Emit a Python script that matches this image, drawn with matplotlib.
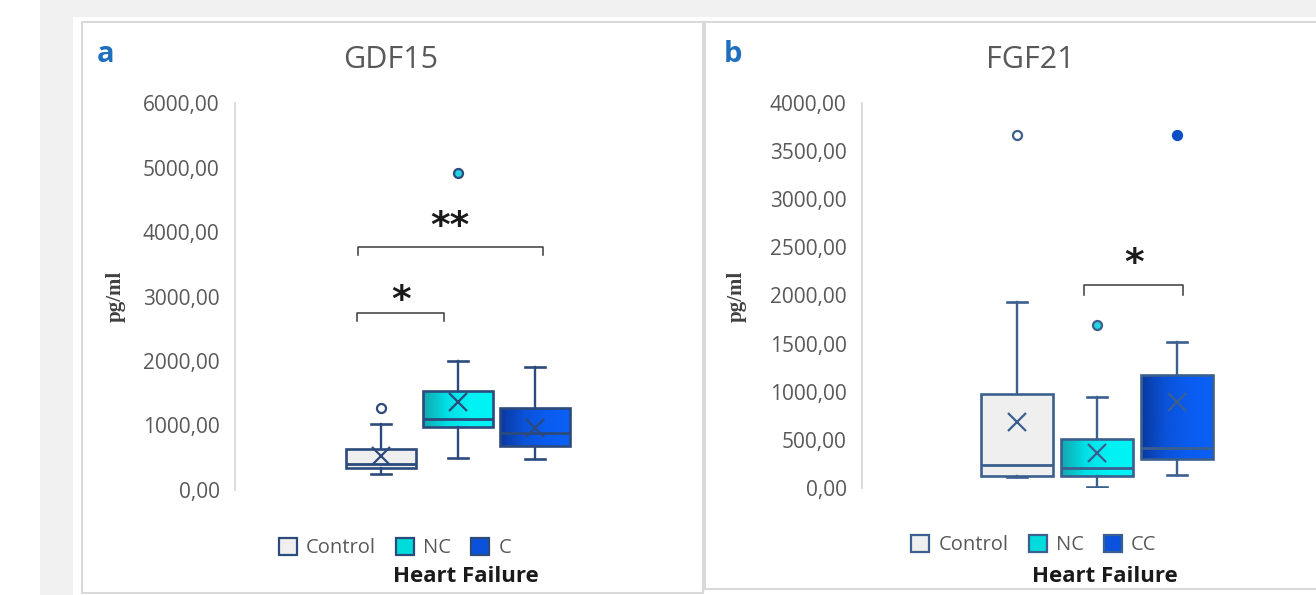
import numpy as np
import matplotlib
matplotlib.use("Agg")
import matplotlib.pyplot as plt
from matplotlib.patches import Rectangle, Patch
from matplotlib.colors import LinearSegmentedColormap
from matplotlib.ticker import FuncFormatter

# ---------------- data ----------------
gdf15_groups = ["Control", "NC", "C"]
gdf15_whislo = [248, 496, 481]
gdf15_q1 = [341, 977, 682]
gdf15_med = [403, 1100, 884]
gdf15_q3 = [636, 1535, 1271]
gdf15_whishi = [1023, 2000, 1907]
gdf15_mean = [527, 1364, 961]
gdf15_fliers = [[1271], [4915], []]
gdf15_ticks = [0, 1000, 2000, 3000, 4000, 5000, 6000]
# (x start, x end, bracket height, label height, label)
gdf15_sig = [(0.69, 1.82, 2744, 3008, "*"), (0.70, 3.10, 3767, 4155, "**")]

fgf21_groups = ["Control", "NC", "CC"]
fgf21_whislo = [112, 10, 135]
fgf21_q1 = [125, 125, 302]
fgf21_med = [235, 208, 417]
fgf21_q3 = [979, 510, 1177]
fgf21_whishi = [1937, 948, 1521]
fgf21_mean = [688, 365, 896]
fgf21_fliers = [[3667], [1698], [3667]]
fgf21_ticks = [0, 500, 1000, 1500, 2000, 2500, 3000, 3500, 4000]
fgf21_sig = [(1.84, 3.08, 2104, 2375, "*")]

# ---------------- figure ----------------
W, H = 1316, 595
fig = plt.figure(figsize=(W / 100, H / 100), dpi=100)
fig.patch.set_facecolor("white")

def fx(x):
    return x / W

def fy(y):
    return 1 - y / H

def frect(x0, y0, x1, y1, **kw):
    r = Rectangle((fx(x0), fy(y1)), fx(x1) - fx(x0), fy(y0) - fy(y1),
                  transform=fig.transFigure, **kw)
    fig.patches.append(r)

frect(40, 0, W, H, facecolor="#f0f0f0", edgecolor="none", zorder=-20)
frect(73, 17, W, H, facecolor="white", edgecolor="none", zorder=-19)
frect(82, 22, 703, 593, facecolor="white", edgecolor="#d9d9d9", lw=1.5, zorder=-18)
frect(705, 22, W + 10, 589, facecolor="white", edgecolor="#d9d9d9", lw=1.5, zorder=-18)

FONT = "Open Sans"
TICK_C = "#595959"

fill_cmaps = [
    None,
    LinearSegmentedColormap.from_list("nc", ["#13a6ad", "#00dfe6", "#00f2f4", "#00f4f4"]),
    LinearSegmentedColormap.from_list("c", ["#0a389f", "#0a52d8", "#0a5cf0", "#0a60f6"]),
]
flier_face = ["white", "#22d3e0", "#0c4fc4"]
legend_face = ["#efefef", "#00dcdc", "#0a52dc"]


def panel(axpx, ypx, xlim0, spacing, width, capw, groups, whislo, q1, med, q3,
          whishi, mean, fliers, ticks, sig, drop, edge, title, letter, letter_xy,
          title_xy, ylab_xy, legend_xy, hf_xy):
    x0, x1 = axpx
    ytop, ybot = ypx
    ax = fig.add_axes([fx(x0), fy(ybot), fx(x1) - fx(x0), fy(ytop) - fy(ybot)])
    ax.set_facecolor("none")
    n = len(groups)
    pos = np.arange(1, n + 1)
    stats = []
    for i in range(n):
        stats.append(dict(med=med[i], q1=q1[i], q3=q3[i], whislo=whislo[i],
                          whishi=whishi[i], mean=mean[i], fliers=fliers[i],
                          label=groups[i]))
    res = ax.bxp(stats, positions=pos, widths=width, capwidths=capw,
                 patch_artist=True, showmeans=True, manage_ticks=False,
                 boxprops=dict(edgecolor=edge, linewidth=1.9),
                 whiskerprops=dict(color=edge, linewidth=1.7),
                 capprops=dict(color=edge, linewidth=1.9),
                 medianprops=dict(color=edge, linewidth=2.0),
                 meanprops=dict(marker="x", markersize=13, markeredgecolor=edge,
                                markeredgewidth=1.6))
    for i, b in enumerate(res["boxes"]):
        b.set_zorder(3)
        if fill_cmaps[i] is None:
            b.set_facecolor("#efefef")
        else:
            b.set_facecolor("none")
            grad = np.linspace(0, 1, 256).reshape(1, -1)
            im = ax.imshow(grad, extent=(pos[i] - width / 2, pos[i] + width / 2, q1[i], q3[i]),
                           aspect="auto", cmap=fill_cmaps[i], zorder=2.5,
                           interpolation="bilinear")
            im.set_clip_path(b)
    for i, f in enumerate(res["fliers"]):
        f.set(marker="o", markersize=6.5, markerfacecolor=flier_face[i],
              markeredgecolor=edge if i < 2 else flier_face[i], markeredgewidth=1.6)
    for key in ("medians", "means", "whiskers", "caps"):
        for a in res[key]:
            a.set_zorder(4)

    ax.set_xlim(xlim0, xlim0 + (x1 - x0) / spacing)
    ax.set_ylim(ticks[0], ticks[-1])
    ax.set_yticks(ticks)
    ax.yaxis.set_major_formatter(FuncFormatter(lambda v, p: f"{v:.2f}".replace(".", ",")))
    ax.set_xticks([])
    for s in ("top", "right", "bottom"):
        ax.spines[s].set_visible(False)
    ax.spines["left"].set_color("#d9d9d9")
    ax.spines["left"].set_linewidth(1.3)
    ax.tick_params(axis="y", length=0, pad=11, labelsize=15, labelcolor=TICK_C)
    for t in ax.get_yticklabels():
        t.set_fontfamily(FONT)

    # significance brackets
    for (xa, xb, yv, ylab, lab) in sig:
        ax.plot([xa, xa, xb, xb], [yv - drop, yv, yv, yv - drop], color="#3a3a3a",
                lw=1.1, zorder=5, clip_on=False)
        ax.annotate(lab, xy=((xa + xb) / 2, ylab), xytext=(0, -16.5),
                    textcoords="offset points", ha="center", va="bottom",
                    fontsize=27, fontweight="bold", family="DejaVu Sans",
                    color="#1a1a1a", zorder=6)

    fig.text(fx(letter_xy[0]), fy(letter_xy[1]), letter, fontsize=21, fontweight="bold",
             color="#1f6fbf", family=FONT, ha="center", va="center")
    fig.text(fx(title_xy[0]), fy(title_xy[1]), title, fontsize=22, color="#595959",
             family=FONT, ha="center", va="center")
    fig.text(fx(ylab_xy[0]), fy(ylab_xy[1]), "pg/ml", fontsize=15, fontweight="bold",
             color="#404040", family="Liberation Serif", rotation=90, ha="center",
             va="center")
    handles = [Patch(facecolor=legend_face[i], edgecolor=edge, linewidth=1.6, label=groups[i])
               for i in range(n)]
    leg = fig.legend(handles=handles, loc="center", ncol=n, frameon=False,
                     bbox_to_anchor=(fx(legend_xy[0]), fy(legend_xy[1])),
                     handlelength=0.9, handleheight=0.9, handletextpad=0.45,
                     columnspacing=1.0, prop=dict(family=FONT, size=14.5))
    for t in leg.get_texts():
        t.set_color(TICK_C)
    fig.text(fx(hf_xy[0]), fy(hf_xy[1]), "Heart Failure", fontsize=16, fontweight="bold",
             color="#1a1a1a", family=FONT, ha="center", va="center")
    return ax


panel((235, 681), (103, 490), 1 - (381 - 235) / 77, 77, 0.92, 0.26,
      gdf15_groups, gdf15_whislo, gdf15_q1, gdf15_med, gdf15_q3, gdf15_whishi,
      gdf15_mean, gdf15_fliers, gdf15_ticks, gdf15_sig, 124, "#2c4a7c",
      "GDF15", "a", (106, 55), (391, 60), (116, 296), (395, 548), (466, 577))

panel((862, 1342), (103, 488), 1 - (1017 - 862) / 80, 80, 0.9, 0.26,
      fgf21_groups, fgf21_whislo, fgf21_q1, fgf21_med, fgf21_q3, fgf21_whishi,
      fgf21_mean, fgf21_fliers, fgf21_ticks, fgf21_sig, 94, "#3b5f8e",
      "FGF21", "b", (733, 55), (1030, 60), (737, 296), (1034, 545), (1105, 577))

fig.savefig("out.png", dpi=100, facecolor=fig.get_facecolor())
